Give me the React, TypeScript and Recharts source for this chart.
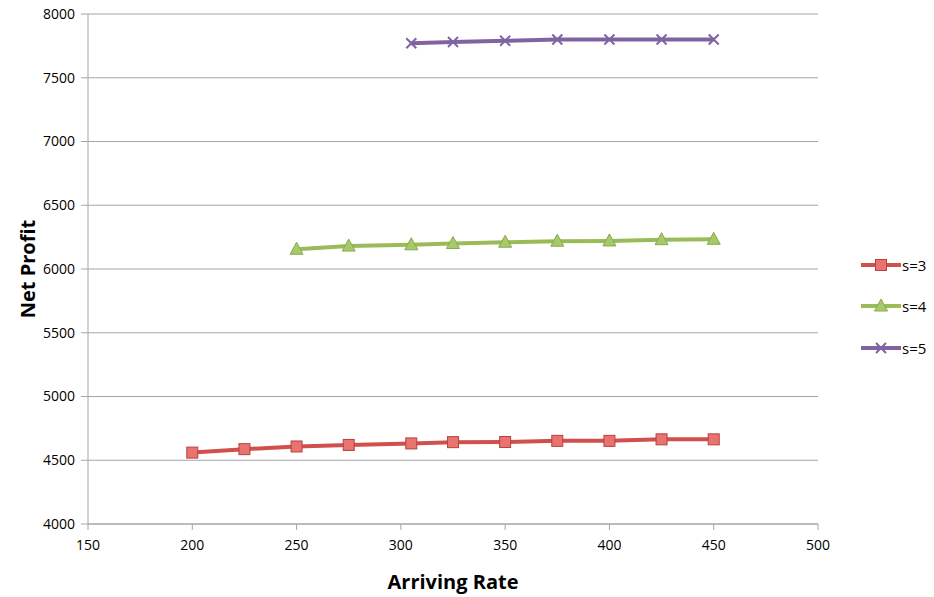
import React from 'react';
import { LineChart, Line, XAxis, YAxis, CartesianGrid } from 'recharts';

const s3Rates = [200, 225, 250, 275, 305, 325, 350, 375, 400, 425, 450];
const s3Profit = [4560, 4587, 4608, 4620, 4632, 4642, 4643, 4652, 4652, 4664, 4664];

const s4Rates = [250, 275, 305, 325, 350, 375, 400, 425, 450];
const s4Profit = [6155, 6180, 6190, 6200, 6210, 6218, 6220, 6230, 6233];

const s5Rates = [305, 325, 350, 375, 400, 425, 450];
const s5Profit = [7770, 7780, 7790, 7800, 7800, 7800, 7800];

const xTicks = [150, 200, 250, 300, 350, 400, 450, 500];
const yTicks = [4000, 4500, 5000, 5500, 6000, 6500, 7000, 7500, 8000];

const toRows = (xs: number[], ys: number[]) => xs.map((x, i) => ({ rate: x, profit: ys[i] }));

const series = [
  { name: 's=3', rows: toRows(s3Rates, s3Profit), color: '#D0504D', marker: 'square' },
  { name: 's=4', rows: toRows(s4Rates, s4Profit), color: '#9BBB59', marker: 'triangle' },
  { name: 's=5', rows: toRows(s5Rates, s5Profit), color: '#8064A2', marker: 'cross' },
];

const font = 'Open Sans, Liberation Sans, sans-serif';

const Marker = ({ kind, cx, cy, color }: { kind: string; cx: number; cy: number; color: string }) => {
  if (kind === 'square') {
    return <rect x={cx - 5.5} y={cy - 5.5} width={11} height={11} fill="#E8736F" stroke="#B9413E" strokeWidth={1} />;
  }
  if (kind === 'triangle') {
    return <polygon points={`${cx},${cy - 7} ${cx + 6.5},${cy + 5} ${cx - 6.5},${cy + 5}`} fill="#A6C96A" stroke="#8AAA4E" strokeWidth={1} />;
  }
  return (
    <g stroke={color} strokeWidth={2}>
      <line x1={cx - 5} y1={cy - 5} x2={cx + 5} y2={cy + 5} />
      <line x1={cx - 5} y1={cy + 5} x2={cx + 5} y2={cy - 5} />
    </g>
  );
};

// legend drawn as an overlay so it doesn't eat into the plot width
const LegendBox = () => (
  <div style={{ position: 'absolute', left: 861, top: 244, fontFamily: font, fontSize: 15 }}>
    {series.map((s) => (
      <div key={s.name} style={{ display: 'flex', alignItems: 'center', height: 41.5 }}>
        <svg width={40} height={16}>
          <line x1={0} y1={8} x2={40} y2={8} stroke={s.color} strokeWidth={4} />
          <Marker kind={s.marker} cx={20} cy={8} color={s.color} />
        </svg>
        <span style={{ marginLeft: 1 }}>{s.name}</span>
      </div>
    ))}
  </div>
);

const App: React.FC = () => {
  return (
    <div style={{ position: 'absolute', left: 0, top: 0, width: 934, height: 597, background: '#fff' }}>
      <LineChart width={934} height={597} margin={{ top: 14, right: 116, left: 0, bottom: 0 }}>
        <CartesianGrid vertical={false} stroke="#A6A6A6" strokeWidth={1.2} />
        <XAxis
          type="number"
          dataKey="rate"
          domain={[150, 500]}
          ticks={xTicks}
          height={73}
          stroke="#A6A6A6"
          tickSize={6}
          tick={{ fill: '#000', fontSize: 14, fontFamily: font }}
          tickMargin={10}
          allowDuplicatedCategory={false}
          label={{ value: 'Arriving Rate', position: 'insideBottom', offset: 8, style: { fill: '#000', fontSize: 20, fontWeight: 'bold', fontFamily: font } }}
        />
        <YAxis
          type="number"
          dataKey="profit"
          domain={[4000, 8000]}
          ticks={yTicks}
          width={88}
          stroke="#A6A6A6"
          tickSize={7}
          tick={{ fill: '#000', fontSize: 14, fontFamily: font }}
          tickMargin={6}
          label={{ value: 'Net Profit', angle: -90, position: 'insideLeft', offset: 28, style: { fill: '#000', fontSize: 20, fontWeight: 'bold', fontFamily: font, textAnchor: 'middle' } }}
        />
        {series.map((s) => (
          <Line
            key={s.name}
            data={s.rows}
            dataKey="profit"
            name={s.name}
            type="linear"
            stroke={s.color}
            strokeWidth={4}
            isAnimationActive={false}
            dot={(p: any) => <Marker key={`${s.name}-${p.index}`} kind={s.marker} cx={p.cx} cy={p.cy} color={s.color} />}
            activeDot={false}
          />
        ))}
      </LineChart>
      <LegendBox />
    </div>
  );
};

export default App;
